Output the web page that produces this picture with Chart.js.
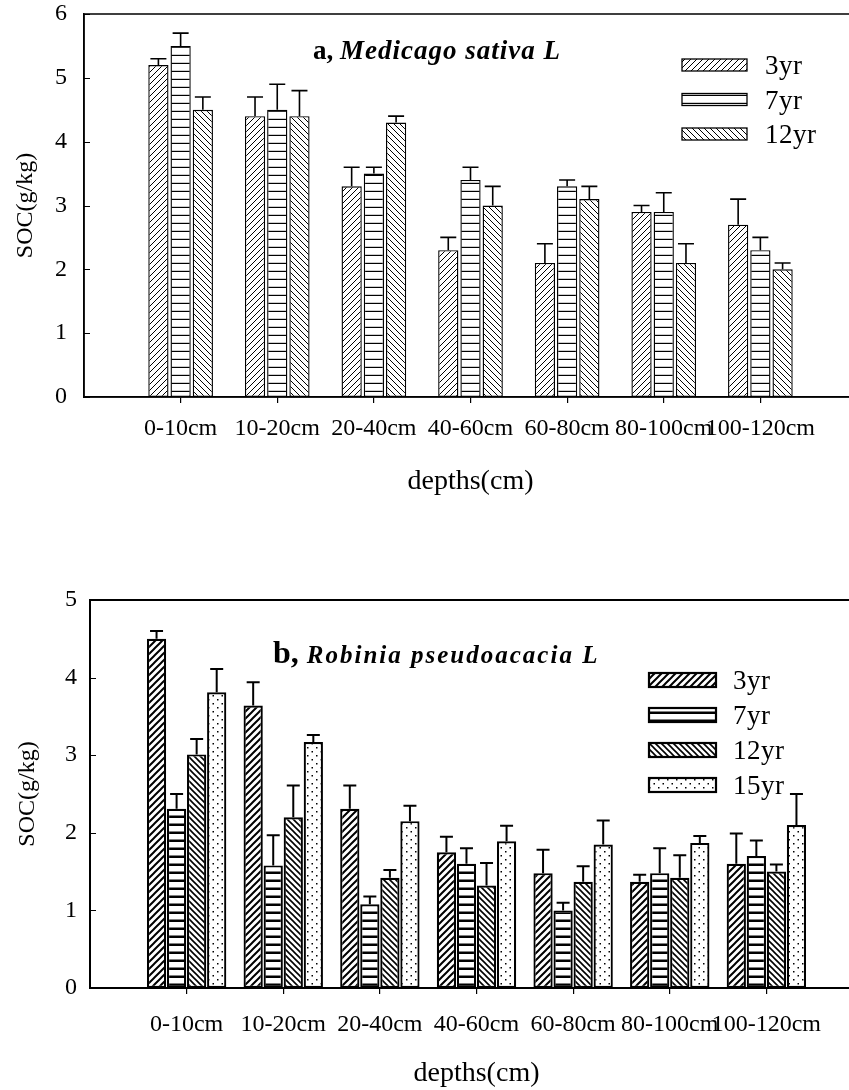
<!DOCTYPE html>
<html>
<head>
<meta charset="utf-8">
<title>SOC by depth</title>
<script src="https://cdn.jsdelivr.net/npm/chart.js@4.4.0/dist/chart.umd.min.js"></script>
<style>
  html, body { margin: 0; padding: 0; background: #fff; overflow: hidden; }
  .box { position: absolute; left: 0; }
</style>
</head>
<body>
<div class="box" style="top:0;width:880px;height:530px"><canvas id="chartA"></canvas></div>
<div class="box" style="top:586px;width:880px;height:504px"><canvas id="chartB"></canvas></div>
<script>
// depth classes (x axis)
const depths = ['0-10cm', '10-20cm', '20-40cm', '40-60cm', '60-80cm', '80-100cm', '100-120cm'];

// a, Medicago sativa L -- SOC (g/kg) and upper error bar
const alfalfa3 = [5.2, 4.4, 3.3, 2.3, 2.1, 2.9, 2.7];
const alfalfa3Err = [0.1, 0.3, 0.3, 0.2, 0.3, 0.1, 0.4];
const alfalfa7 = [5.5, 4.5, 3.5, 3.4, 3.3, 2.9, 2.3];
const alfalfa7Err = [0.2, 0.4, 0.1, 0.2, 0.1, 0.3, 0.2];
const alfalfa12 = [4.5, 4.4, 4.3, 3.0, 3.1, 2.1, 2.0];
const alfalfa12Err = [0.2, 0.4, 0.1, 0.3, 0.2, 0.3, 0.1];

// b, Robinia pseudoacacia L
const robinia3 = [4.5, 3.64, 2.31, 1.75, 1.48, 1.37, 1.6];
const robinia3Err = [0.1, 0.3, 0.3, 0.2, 0.3, 0.09, 0.39];
const robinia7 = [2.31, 1.58, 1.08, 1.6, 1.0, 1.48, 1.7];
const robinia7Err = [0.19, 0.39, 0.1, 0.2, 0.1, 0.32, 0.2];
const robinia12 = [3.01, 2.2, 1.42, 1.32, 1.37, 1.42, 1.5];
const robinia12Err = [0.2, 0.41, 0.1, 0.29, 0.2, 0.29, 0.09];
const robinia15 = [3.81, 3.17, 2.15, 1.89, 1.85, 1.87, 2.1];
const robinia15Err = [0.3, 0.09, 0.2, 0.2, 0.31, 0.09, 0.4];

const yTicksA = [0, 1, 2, 3, 4, 5, 6];
const yTicksB = [0, 1, 2, 3, 4, 5];

const serif = "'Liberation Serif', 'Times New Roman', serif";

// blank slot on each side so the bars sit at 1..7 on a 0..8 axis
const xLabels = ['', ...depths, ''];
function padEnds(arr) { return [null, ...arr, null]; }

// fill patterns for the bars
function hatch(kind, lw, gap) {
  const c = document.createElement('canvas');
  const w = kind === 'horiz' ? 4 : (kind === 'dots' ? 9 : gap);
  const h = kind === 'dots' ? 8 : gap;
  c.width = w; c.height = h;
  const g = c.getContext('2d');
  g.fillStyle = '#fff';
  g.fillRect(0, 0, w, h);
  g.strokeStyle = '#000';
  g.fillStyle = '#000';
  g.lineWidth = lw;
  g.beginPath();
  if (kind === 'fwd') {
    g.moveTo(-gap, gap); g.lineTo(gap, -gap);
    g.moveTo(0, gap); g.lineTo(gap, 0);
    g.moveTo(0, 2 * gap); g.lineTo(2 * gap, 0);
    g.stroke();
  } else if (kind === 'back') {
    g.moveTo(0, 0); g.lineTo(gap, gap);
    g.moveTo(-gap, 0); g.lineTo(gap, 2 * gap);
    g.moveTo(0, -gap); g.lineTo(2 * gap, gap);
    g.stroke();
  } else if (kind === 'horiz') {
    g.fillRect(0, gap - lw, w, lw);
  } else if (kind === 'dots') {
    g.fillRect(1, 1, lw, lw);
    g.fillRect(5.5, 5, lw, lw);
  }
  return g.createPattern(c, 'repeat');
}

const frameAndTicks = {
  id: 'frameAndTicks',
  afterDatasetsDraw(chart, args, opts) {
    const { ctx, chartArea: a, scales: { y } } = chart;
    ctx.save();
    ctx.strokeStyle = '#000';
    ctx.lineWidth = opts.lineWidth;
    ctx.strokeRect(a.left, a.top, a.right - a.left, a.bottom - a.top);
    ctx.beginPath();
    y.ticks.forEach(t => {
      const py = Math.round(y.getPixelForValue(t.value)) + 0.5;
      ctx.moveTo(a.left, py);
      ctx.lineTo(a.left + opts.tickLen, py);
    });
    ctx.lineWidth = 1;
    ctx.stroke();
    ctx.restore();
  }
};

const errorBars = {
  id: 'errorBars',
  afterDatasetsDraw(chart, args, opts) {
    const { ctx, scales: { y } } = chart;
    ctx.save();
    ctx.strokeStyle = '#000';
    ctx.lineWidth = opts.lineWidth;
    chart.data.datasets.forEach((ds, di) => {
      chart.getDatasetMeta(di).data.forEach((bar, i) => {
        const v = ds.data[i], e = ds.errors[i];
        if (v == null || e == null) return;
        const top = y.getPixelForValue(v + e);
        ctx.beginPath();
        ctx.moveTo(bar.x, bar.y);
        ctx.lineTo(bar.x, top);
        ctx.moveTo(bar.x - opts.cap / 2, top);
        ctx.lineTo(bar.x + opts.cap / 2, top);
        ctx.stroke();
      });
    });
    ctx.restore();
  }
};

// legend boxes with the same fills as the bars
const boxLegend = {
  id: 'boxLegend',
  afterDraw(chart, args, opts) {
    const ctx = chart.ctx;
    ctx.save();
    ctx.font = opts.font;
    if ('letterSpacing' in ctx) ctx.letterSpacing = opts.spacing || '0px';
    ctx.textBaseline = 'middle';
    chart.data.datasets.forEach((ds, i) => {
      const y = opts.y + i * opts.dy;
      ctx.fillStyle = ds.backgroundColor;
      ctx.fillRect(opts.x, y, opts.w, opts.h);
      ctx.strokeStyle = '#000';
      ctx.lineWidth = opts.lineWidth;
      ctx.strokeRect(opts.x, y, opts.w, opts.h);
      ctx.fillStyle = '#000';
      ctx.fillText(ds.label, opts.textX, y + opts.h / 2 + 2);
    });
    ctx.restore();
  }
};

// title with mixed bold / bold italic pieces
const richTitle = {
  id: 'richTitle',
  afterDraw(chart, args, opts) {
    const ctx = chart.ctx;
    ctx.save();
    ctx.fillStyle = '#000';
    ctx.textBaseline = 'alphabetic';
    let x = opts.x;
    opts.parts.forEach(p => {
      ctx.font = p.font;
      if ('letterSpacing' in ctx) ctx.letterSpacing = p.spacing || '0px';
      ctx.fillText(p.text, x, opts.y);
      x += ctx.measureText(p.text).width;
    });
    ctx.restore();
  }
};

function baseOptions(o) {
  return {
    responsive: true,
    maintainAspectRatio: false,
    animation: false,
    layout: { padding: { top: 14, right: o.padRight, left: 0, bottom: 0 } },
    datasets: {
      bar: {
        categoryPercentage: o.catPct,
        barPercentage: o.barPct,
        borderColor: '#000',
        borderWidth: o.barBorder,
        borderSkipped: false
      }
    },
    scales: {
      x: {
        type: 'category',
        offset: false,
        grid: {
          offset: false,
          drawOnChartArea: false,
          drawTicks: true,
          tickLength: 6,
          lineWidth: 1.2,
          color: c => (c.index === 0 || c.index === xLabels.length - 1) ? 'rgba(0,0,0,0)' : '#000'
        },
        border: { color: '#000', width: o.axisWidth },
        ticks: {
          color: '#000', autoSkip: false, maxRotation: 0, minRotation: 0,
          padding: o.xTickPad,
          font: { family: serif, size: 24 }
        },
        title: {
          display: true, text: 'depths(cm)', color: '#000',
          font: { family: serif, size: 28 },
          padding: { top: 0, bottom: o.xTitlePad }
        },
        afterFit: s => { s.height = o.xHeight; s.paddingLeft = 0; s.paddingRight = 0; }
      },
      y: {
        min: 0, max: o.yMax,
        afterBuildTicks: s => { s.ticks = o.yTicks.map(v => ({ value: v })); },
        grid: { display: false, drawTicks: false },
        border: { color: '#000', width: o.axisWidth },
        ticks: {
          color: '#000', padding: o.yTickPad,
          font: { family: serif, size: 24 }
        },
        title: {
          display: true, text: 'SOC(g/kg)', color: '#000',
          font: { family: serif, size: 24 },
          padding: { top: o.yTitlePad, bottom: 0 }
        },
        afterFit: s => { s.width = o.yWidth; s.paddingTop = 0; s.paddingBottom = 0; }
      }
    },
    plugins: {
      legend: { display: false },
      tooltip: { enabled: false },
      frameAndTicks: { lineWidth: o.axisWidth, tickLen: 6 },
      errorBars: o.err,
      boxLegend: o.legend,
      richTitle: o.title
    }
  };
}

new Chart(document.getElementById('chartA'), {
  type: 'bar',
  data: {
    labels: xLabels,
    datasets: [
      { label: '3yr', data: padEnds(alfalfa3), errors: padEnds(alfalfa3Err), backgroundColor: hatch('fwd', 1, 6) },
      { label: '7yr', data: padEnds(alfalfa7), errors: padEnds(alfalfa7Err), backgroundColor: hatch('horiz', 1.2, 8) },
      { label: '12yr', data: padEnds(alfalfa12), errors: padEnds(alfalfa12Err), backgroundColor: hatch('back', 1, 6) }
    ]
  },
  options: baseOptions({
    padRight: 23, catPct: 0.69, barPct: 0.91, barBorder: 1.4, axisWidth: 1.5,
    xTickPad: 11, xTitlePad: 32, xHeight: 133, yMax: 6, yTicks: yTicksA,
    yTickPad: 17, yTitlePad: 11, yWidth: 84,
    err: { lineWidth: 1.6, cap: 16 },
    legend: { x: 682, y: 59, dy: 34.5, w: 65, h: 12, textX: 765, lineWidth: 1.3, font: '27px ' + serif, spacing: '0.5px' },
    title: {
      x: 313, y: 59,
      parts: [
        { text: 'a, ', font: 'bold 27px ' + serif },
        { text: 'Medicago sativa L', font: 'italic bold 27px ' + serif, spacing: '1px' }
      ]
    }
  }),
  plugins: [frameAndTicks, errorBars, boxLegend, richTitle]
});

new Chart(document.getElementById('chartB'), {
  type: 'bar',
  data: {
    labels: xLabels,
    datasets: [
      { label: '3yr', data: padEnds(robinia3), errors: padEnds(robinia3Err), backgroundColor: hatch('fwd', 2, 7) },
      { label: '7yr', data: padEnds(robinia7), errors: padEnds(robinia7Err), backgroundColor: hatch('horiz', 2.5, 8) },
      { label: '12yr', data: padEnds(robinia12), errors: padEnds(robinia12Err), backgroundColor: hatch('back', 1.6, 6) },
      { label: '15yr', data: padEnds(robinia15), errors: padEnds(robinia15Err), backgroundColor: hatch('dots', 1.5, 0) }
    ]
  },
  options: baseOptions({
    padRight: 17, catPct: 0.83, barPct: 0.96, barBorder: 2.2, axisWidth: 2,
    xTickPad: 16, xTitlePad: 0, xHeight: 102, yMax: 5, yTicks: yTicksB,
    yTickPad: 13, yTitlePad: 13, yWidth: 90,
    err: { lineWidth: 2, cap: 13 },
    legend: { x: 649, y: 87, dy: 35, w: 67, h: 14, textX: 733, lineWidth: 2.2, font: '27px ' + serif, spacing: '0.5px' },
    title: {
      x: 273, y: 77,
      parts: [
        { text: 'b, ', font: 'bold 32px ' + serif },
        { text: 'Robinia pseudoacacia L', font: 'italic bold 25px ' + serif, spacing: '2px' }
      ]
    }
  }),
  plugins: [frameAndTicks, errorBars, boxLegend, richTitle]
});
</script>
</body>
</html>
